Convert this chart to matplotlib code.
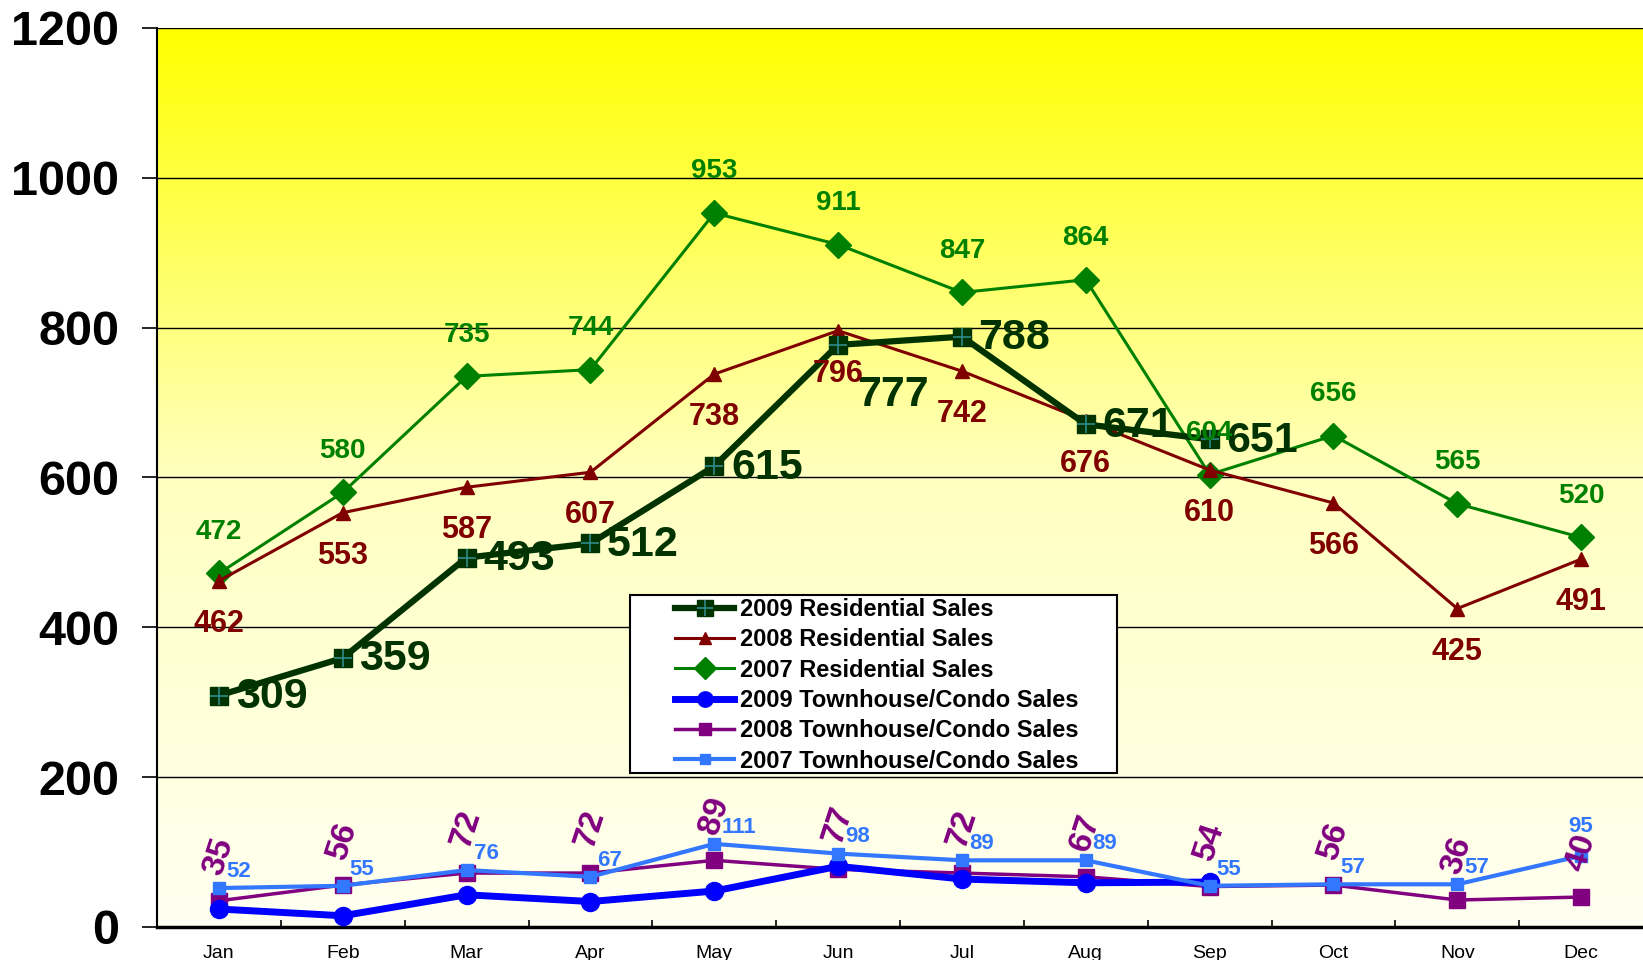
import numpy as np
import matplotlib
matplotlib.use("Agg")
import matplotlib.pyplot as plt
from matplotlib.patches import Rectangle
from matplotlib.colors import LinearSegmentedColormap

months = ["Jan", "Feb", "Mar", "Apr", "May", "Jun", "Jul", "Aug", "Sep", "Oct", "Nov", "Dec"]
res_2009 = [309, 359, 493, 512, 615, 777, 788, 671, 651, None, None, None]
res_2008 = [462, 553, 587, 607, 738, 796, 742, 676, 610, 566, 425, 491]
res_2007 = [472, 580, 735, 744, 953, 911, 847, 864, 604, 656, 565, 520]
th_2009 = [24, 15, 43, 34, 48, 81, 64, 59, 60, None, None, None]
th_2008 = [35, 56, 72, 72, 89, 77, 72, 67, 54, 56, 36, 40]
th_2007 = [52, 55, 76, 67, 111, 98, 89, 89, 55, 57, 57, 95]
yticks = [0, 200, 400, 600, 800, 1000, 1200]

def arr(v):
    return np.array([np.nan if x is None else x for x in v], dtype=float)

FONT = ['Liberation Sans', 'DejaVu Sans']
NARROW = ['Liberation Sans Narrow', 'Liberation Sans', 'DejaVu Sans']
plt.rcParams['font.family'] = FONT

fig = plt.figure(figsize=(16.43, 9.6), dpi=100)
ax = fig.add_axes([157/1643, 1 - 927/960, 1 - 157/1643, 899/960])
x = np.arange(len(months))
ax.set_xlim(-0.5, len(months) - 0.5)
ax.set_ylim(0, 1200)

# background gradient
cmap = LinearSegmentedColormap.from_list("bg", ["#FFFFF2", "#FFFFC0", "#FFFF00"])
grad = np.linspace(0, 1, 256).reshape(-1, 1)
ax.imshow(grad, aspect='auto', cmap=cmap, origin='lower',
          extent=(-0.5, len(months) - 0.5, 0, 1200), zorder=0)

for yv in yticks[1:]:
    ax.axhline(yv, color='black', lw=1.0, zorder=1)

# lines
C09R, C08R, C07R = '#003300', '#800000', '#008000'
C09T, C08T, C07T = '#0000FF', '#800080', '#3377FF'

l07t, = ax.plot(x, arr(th_2007), color=C07T, lw=3, marker='s', ms=9, zorder=4)
l08t, = ax.plot(x, arr(th_2008), color=C08T, lw=2.5, marker='s', ms=11, zorder=3)
l09t, = ax.plot(x, arr(th_2009), color=C09T, lw=5, marker='o', ms=13, zorder=3.5)
l07r, = ax.plot(x, arr(res_2007), color=C07R, lw=2.2, marker='D', ms=13, zorder=3)
l08r, = ax.plot(x, arr(res_2008), color=C08R, lw=2.2, marker='^', ms=10, zorder=3)
l09r, = ax.plot(x, arr(res_2009), color=C09R, lw=4.5, marker='s', ms=13, zorder=4)
l09p, = ax.plot(x, arr(res_2009), ls='none', marker='+', ms=13, mew=1.2, color='#2E8B8B', zorder=4.1)

# labels
for i, v in enumerate(res_2009):
    if v is None:
        continue
    if months[i] == 'Jun':
        dx, dy = 14, -36
    else:
        dx, dy = 12, -1
    ax.annotate(str(v), (i, v), xytext=(dx, dy), textcoords='offset points',
                ha='left', va='center', fontsize=31, fontweight='bold', color=C09R, zorder=6)
for i, v in enumerate(res_2008):
    ax.annotate(str(v), (i, v), xytext=(0, -31), textcoords='offset points',
                ha='center', va='center', fontsize=22, fontweight='bold', color=C08R, zorder=6)
for i, v in enumerate(res_2007):
    ax.annotate(str(v), (i, v), xytext=(0, 30), textcoords='offset points',
                ha='center', va='center', fontsize=20, fontweight='bold', color=C07R, zorder=6)
for i, v in enumerate(th_2008):
    ax.annotate(str(v), (i, v), xytext=(0, 32), textcoords='offset points',
                ha='center', va='center', fontsize=24, fontweight='bold', color=C08T,
                rotation=72, zorder=6)
for i, v in enumerate(th_2007):
    if i == len(th_2007) - 1:
        off, ha = (0, 21), 'center'
    else:
        off, ha = (5, 12), 'left'
    ax.annotate(str(v), (i, v), xytext=off, textcoords='offset points',
                ha=ha, va='center', fontsize=16, fontweight='bold', color=C07T,
                family=NARROW, zorder=6)

# axes styling
for s in ['top', 'right']:
    ax.spines[s].set_visible(False)
ax.spines['left'].set_linewidth(1.5)
ax.spines['bottom'].set_linewidth(2.5)
ax.set_yticks(yticks)
ax.set_yticklabels([str(t) for t in yticks], fontsize=35, fontweight='bold')
ax.tick_params(axis='y', length=11, width=1.2, pad=16)
ax.set_xticks(x)
ax.set_xticklabels(months, fontsize=14, family=NARROW)
ax.tick_params(axis='x', which='major', length=0, pad=13)
ax.set_xticks(np.arange(0.5, len(months) - 0.5, 1), minor=True)
ax.tick_params(axis='x', which='minor', direction='in', length=5, width=1.2)

# legend
rect = Rectangle((630/1643, 1 - 773/960), (1117 - 630)/1643, (773 - 595)/960,
                 transform=fig.transFigure, facecolor='white', edgecolor='black',
                 lw=1.5, zorder=10)
fig.patches.append(rect)
handles = [(l09r, l09p), l08r, l07r, l09t, l08t, l07t]
labels = ["2009 Residential Sales", "2008 Residential Sales", "2007 Residential Sales",
          "2009 Townhouse/Condo Sales", "2008 Townhouse/Condo Sales", "2007 Townhouse/Condo Sales"]
leg = fig.legend(handles, labels, loc='upper left', bbox_to_anchor=(675/1643, 1 - 598/960),
                 frameon=False, prop={'size': 17, 'weight': 'bold'}, handlelength=2.5,
                 handletextpad=0.25, labelspacing=0.31, borderpad=0, borderaxespad=0,
                 markerscale=0.85)
leg.set_zorder(11)

fig.savefig('out.png', dpi=100)
